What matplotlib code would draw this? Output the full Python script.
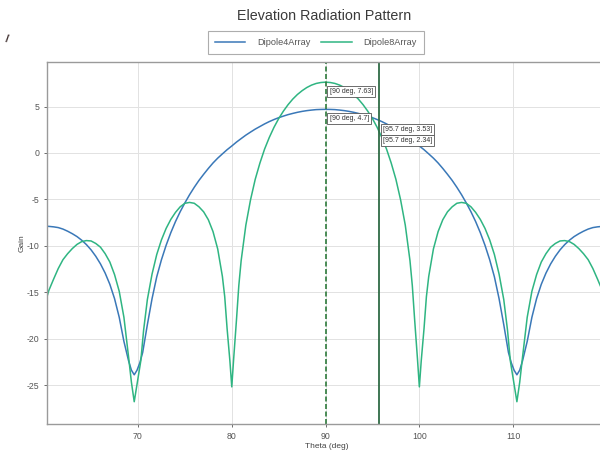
import matplotlib
matplotlib.use("Agg")
import matplotlib.pyplot as plt

plt.rcParams['font.family'] = ['Liberation Sans', 'DejaVu Sans']
plt.rcParams['axes.unicode_minus'] = False

# ---- data ----
theta_a = [60, 60.5, 61, 61.5, 62, 62.5, 63, 63.5, 64, 64.5, 65, 65.5, 66, 66.5, 67, 67.5, 68,
           68.5, 69, 69.3, 69.6, 69.9, 70.2, 70.5, 71, 71.5, 72, 72.5, 73, 73.5, 74, 74.5, 75,
           75.5, 76, 76.5, 77, 77.5, 78, 78.5, 79, 79.5, 80, 80.5, 81, 81.5, 82, 82.5, 83, 83.5,
           84, 84.5, 85, 85.5, 86, 86.5, 87, 87.5, 88, 88.5, 89, 89.5, 90,
           90.5, 91, 91.5, 92, 92.5, 93, 93.5, 94, 94.5, 95, 95.5, 96, 96.5, 97, 97.5, 98, 98.5,
           99, 99.5, 100, 100.5, 101, 101.5, 102, 102.5, 103, 103.5, 104, 104.5, 105, 105.5, 106,
           106.5, 107, 107.5, 108, 108.5, 109, 109.5, 109.8, 110.1, 110.4, 110.7, 111, 111.5, 112,
           112.5, 113, 113.5, 114, 114.5, 115, 115.5, 116, 116.5, 117, 117.5, 118, 118.5, 119,
           119.5, 120]
gain_a = [-7.88, -7.91, -7.96, -8.04, -8.20, -8.43, -8.70, -9.01, -9.40, -9.87, -10.44, -11.13,
          -11.95, -12.94, -14.15, -15.69, -17.70,
          -20.3, -22.4, -23.4, -23.9, -23.4, -22.6, -21.5, -18.5, -15.7, -13.34, -11.51, -9.95,
          -8.59, -7.39, -6.33, -5.38,
          -4.50, -3.70, -2.96, -2.30, -1.67, -1.08, -0.56, -0.10, 0.35, 0.75, 1.17, 1.55, 1.92,
          2.25, 2.57, 2.85, 3.13,
          3.38, 3.60, 3.80, 3.97, 4.13, 4.26, 4.38, 4.48, 4.56, 4.62, 4.67, 4.69, 4.70,
          4.69, 4.67, 4.62, 4.56, 4.48, 4.38, 4.26, 4.13, 3.97, 3.80, 3.60, 3.38, 3.13, 2.85,
          2.57, 2.25, 1.92,
          1.55, 1.17, 0.75, 0.35, -0.10, -0.56, -1.08, -1.67, -2.30, -2.96, -3.70, -4.50, -5.38,
          -6.33, -7.39,
          -8.59, -9.95, -11.51, -13.34, -15.7, -18.5, -21.5, -22.6, -23.4, -23.9, -23.4, -22.4,
          -20.3, -17.70,
          -15.69, -14.15, -12.94, -11.95, -11.13, -10.44, -9.87, -9.40, -9.01, -8.70, -8.43,
          -8.20, -8.04, -7.96,
          -7.91, -7.88]

theta_b = [60, 60.5, 61, 61.5, 62, 62.5, 63, 63.5, 64, 64.5, 65, 65.5, 66, 66.5, 67, 67.5, 68,
           68.5, 69, 69.3, 69.6, 69.9, 70.3, 70.6, 71, 71.5, 72, 72.5, 73, 73.5, 74, 74.5, 75,
           75.5, 76, 76.5, 77, 77.5, 78, 78.5, 79, 79.25, 79.5, 79.8, 80, 80.2, 80.5, 80.75, 81,
           81.5, 82, 82.5, 83, 83.5, 84, 84.5, 85, 85.5, 86, 86.5, 87, 87.5, 88, 88.5, 89, 89.5,
           90,
           90.5, 91, 91.5, 92, 92.5, 93, 93.5, 94, 94.5, 95, 95.5, 96, 96.5, 97, 97.5, 98, 98.5,
           99, 99.25, 99.5, 99.8, 100, 100.2, 100.5, 100.75, 101, 101.5, 102, 102.5, 103, 103.5,
           104, 104.5, 105, 105.5, 106, 106.5, 107, 107.5, 108, 108.5, 109, 109.4, 109.7, 110.1,
           110.4, 110.7, 111, 111.5, 112, 112.5, 113, 113.5, 114, 114.5, 115, 115.5, 116, 116.5,
           117, 117.5, 118, 118.5, 119, 119.5, 120]
gain_b = [-16.5, -14.8, -13.6, -12.45, -11.5, -10.85, -10.3, -9.85, -9.55, -9.44, -9.48, -9.75,
          -10.15, -10.85, -11.75, -13.1, -14.9,
          -17.7, -22.0, -24.7, -26.8, -24.9, -22.4, -19.1, -15.8, -13.05, -10.94, -9.37, -8.13,
          -7.16, -6.40, -5.80, -5.42,
          -5.33, -5.42, -5.80, -6.34, -7.19, -8.47, -10.34, -13.30, -15.5, -18.9, -22.4, -25.2,
          -22.2, -18.0, -14.3, -11.60,
          -7.78, -5.05, -2.84, -1.09, 0.42, 1.67, 2.76, 3.70, 4.50, 5.20, 5.80, 6.30, 6.71, 7.05,
          7.31, 7.49, 7.59,
          7.63,
          7.59, 7.49, 7.31, 7.05, 6.71, 6.30, 5.80, 5.20, 4.50, 3.70, 2.76, 1.67, 0.42, -1.09,
          -2.84, -5.05, -7.78,
          -11.60, -14.3, -18.0, -22.2, -25.2, -22.4, -18.9, -15.5, -13.30, -10.34, -8.47, -7.19,
          -6.34, -5.80,
          -5.42, -5.33, -5.42, -5.80, -6.40, -7.16, -8.13, -9.37, -10.94, -13.05, -15.8, -19.1,
          -22.4, -24.9,
          -26.8, -24.7, -22.0, -17.7, -14.9, -13.1, -11.75, -10.85, -10.15, -9.75, -9.48, -9.44,
          -9.55, -9.85,
          -10.3, -10.85, -11.5, -12.45, -13.6, -14.8, -16.5]

series_names = ['Dipole4Array', 'Dipole8Array']
marker_theta = [90, 95.7]
tips = [(90, 7.63), (90, 4.7), (95.7, 3.53), (95.7, 2.34)]
xticks = [70, 80, 90, 100, 110]
yticks = [-25, -20, -15, -10, -5, 0, 5]

col_a = '#3a78b8'
col_b = '#2fb582'

fig = plt.figure(figsize=(6, 4.53), dpi=100)
ax = fig.add_axes([47/600, 29/453, 559/600, 362/453])

la, = ax.plot(theta_a, gain_a, color=col_a, lw=1.1, label=series_names[0])
lb, = ax.plot(theta_b, gain_b, color=col_b, lw=1.1, label=series_names[1])

ax.axvline(marker_theta[0], color='#2e7a3c', lw=1.2, ls=(0, (3, 1.5)))
ax.axvline(marker_theta[1], color='#2f6b45', lw=1.3)

for tx, ty in tips:
    ax.annotate(f'[{tx:g} deg, {ty:g}]', xy=(tx, ty), xytext=(4, -6),
                textcoords='offset pixels', ha='left', va='top', fontsize=5,
                color='#333333',
                bbox=dict(boxstyle='square,pad=0.3', fc='white', ec='#555555', lw=0.6))

ax.set_xlim(60.3, 119.9)
ax.set_ylim(-29.2, 9.8)
ax.set_xticks(xticks)
ax.set_yticks(yticks)
ax.grid(True, color='#e2e2e2', lw=0.7)
ax.set_axisbelow(True)
for s in ax.spines.values():
    s.set_color('#9a9a9a')
    s.set_linewidth(1.0)
ax.tick_params(labelsize=6.3, colors='#555555', length=2, width=0.6)
ax.set_xlabel('Theta (deg)', fontsize=6, color='#444444', labelpad=2)
ax.set_ylabel('Gain', fontsize=6, color='#444444', labelpad=1)

fig.text(324/600, 1 - 16/453, 'Elevation Radiation Pattern', ha='center', va='center',
         fontsize=10.3, color='#3a3a3a')
leg = fig.legend(handles=[la, lb], loc='center', bbox_to_anchor=(316/600, 1 - 42.5/453),
                 ncol=2, frameon=True, fancybox=False, fontsize=6.6, handlelength=3.3,
                 columnspacing=1.2, borderpad=0.8, handletextpad=1.3)
leg.get_frame().set_edgecolor('#999999')
leg.get_frame().set_linewidth(0.8)
for t in leg.get_texts():
    t.set_color('#555555')

fig.text(7/600, 1 - 34/453, "/", fontsize=8, color='#3a2a2a', fontweight='bold',
         ha='center', va='top', rotation=-10)

fig.savefig('out.png', dpi=100)
